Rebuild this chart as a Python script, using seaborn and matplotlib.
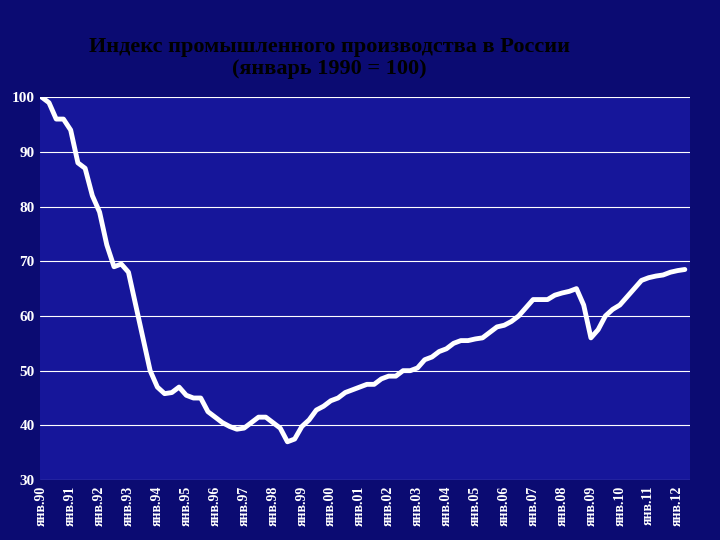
import matplotlib
matplotlib.use("Agg")
import matplotlib.pyplot as plt
import seaborn as sns
import pandas as pd

years = [1990.0,1990.25,1990.5,1990.75,1991.0,1991.25,1991.5,1991.75,1992.0,1992.25,1992.5,1992.75,
 1993.0,1993.25,1993.5,1993.75,1994.0,1994.25,1994.5,1994.75,1995.0,1995.25,1995.5,1995.75,
 1996.0,1996.25,1996.5,1996.75,1997.0,1997.25,1997.5,1997.75,1998.0,1998.25,1998.5,1998.75,
 1999.0,1999.25,1999.5,1999.75,2000.0,2000.25,2000.5,2000.75,2001.0,2001.25,2001.5,2001.75,
 2002.0,2002.25,2002.5,2002.75,2003.0,2003.25,2003.5,2003.75,2004.0,2004.25,2004.5,2004.75,
 2005.0,2005.25,2005.5,2005.75,2006.0,2006.25,2006.5,2006.75,2007.0,2007.25,2007.5,2007.75,
 2008.0,2008.25,2008.5,2008.75,2009.0,2009.25,2009.5,2009.75,2010.0,2010.25,2010.5,2010.75,
 2011.0,2011.25,2011.5,2011.75,2012.0,2012.25]
index = [100,99,96,96,94,88,87,82,79,73,69,69.5,
 68,62,56,50,47,45.8,46,47,45.5,45,45,42.5,
 41.5,40.5,39.8,39.3,39.5,40.5,41.5,41.5,40.5,39.5,37,37.5,
 39.8,41,42.8,43.5,44.5,45,46,46.5,47,47.5,47.5,48.5,
 49,49,50,50,50.5,52,52.5,53.5,54,55,55.5,55.5,
 55.8,56,57,58,58.3,59,60,61.5,63,63,63,63.8,
 64.2,64.5,65,62,56,57.5,60,61.2,62,63.5,65,66.5,
 67,67.3,67.5,68,68.3,68.5]
tick_years = list(range(1990, 2013))
tick_labels = ["янв.%02d" % (y % 100) for y in tick_years]
y_ticks = [30, 40, 50, 60, 70, 80, 90, 100]

df = pd.DataFrame({"year": years, "index": index})

sns.set_style("white")
plt.rcParams["font.family"] = ["Liberation Serif", "DejaVu Serif"]
fig = plt.figure(figsize=(7.2, 5.4), dpi=100)
fig.patch.set_facecolor("#0b0b72")
ax = fig.add_axes([0.056, 0.111, 0.902, 0.709])
ax.set_facecolor("#16169a")
sns.lineplot(data=df, x="year", y="index", ax=ax, color="white", linewidth=3.5)
ax.set_xlim(1989.95, 2012.42)
ax.set_ylim(30, 100)
ax.set_yticks(y_ticks)
ax.set_yticklabels([str(v) for v in y_ticks], color="white", fontsize=11, fontweight="bold")
ax.set_xticks(tick_years)
ax.set_xticklabels(tick_labels, rotation=90, color="white", fontsize=10, fontweight="bold")
ax.tick_params(length=0, pad=4)
ax.grid(axis="y", color="white", linewidth=0.8)
ax.set_xlabel("")
ax.set_ylabel("")
for s in ax.spines.values():
    s.set_visible(False)
fig.text(0.458, 0.892, "Индекс промышленного производства в России\n(январь 1990 = 100)",
         ha="center", va="center", color="black", fontsize=16, fontweight="bold", linespacing=1.15)
fig.savefig("out.png", facecolor=fig.get_facecolor())
